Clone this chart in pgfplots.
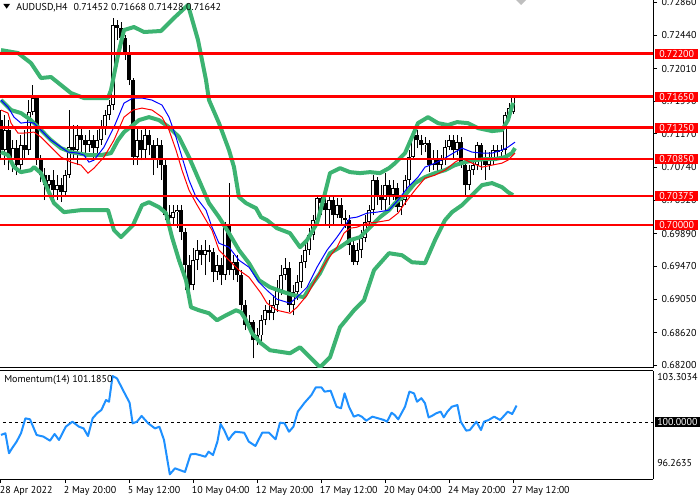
\documentclass[border=0pt]{standalone}
\usepackage{pgfplots}
\pgfplotsset{compat=1.18}
\usepackage{pgfplotstable}
\usepackage{fontspec}
\setmainfont{PT Sans}
\definecolor{bandgreen}{RGB}{60,179,113}
\definecolor{momblue}{RGB}{30,144,255}

\pgfplotstableread{
i o h l c
0 0.71348 0.71477 0.70834 0.70963
1 0.70963 0.71412 0.70770 0.71220
2 0.71220 0.71348 0.70705 0.70834
3 0.70834 0.71091 0.70680 0.70988
4 0.70988 0.71091 0.70641 0.70770
5 0.70770 0.71155 0.70705 0.71027
6 0.71027 0.71220 0.70834 0.70963
7 0.70963 0.71605 0.70898 0.71451
8 0.71451 0.71798 0.71412 0.71631
9 0.71631 0.71669 0.70770 0.70834
10 0.70834 0.70898 0.70551 0.70641
11 0.70641 0.70731 0.70320 0.70513
12 0.70513 0.70641 0.70384 0.70577
13 0.70577 0.70705 0.70346 0.70449
14 0.70449 0.70641 0.70320 0.70513
15 0.70513 0.70603 0.70294 0.70423
16 0.70423 0.70705 0.70384 0.70641
17 0.70641 0.71477 0.70603 0.71001
18 0.71001 0.71284 0.70834 0.70963
19 0.70963 0.71284 0.70770 0.71155
20 0.71155 0.71258 0.70898 0.71091
21 0.71091 0.71155 0.70834 0.71027
22 0.71027 0.71220 0.70937 0.71091
23 0.71091 0.71155 0.70860 0.70988
24 0.70988 0.71220 0.70898 0.71091
25 0.71091 0.71348 0.71027 0.71245
26 0.71245 0.71477 0.71155 0.71412
27 0.71412 0.71605 0.71348 0.71541
28 0.71541 0.72659 0.71477 0.72569
29 0.72569 0.72633 0.72376 0.72530
30 0.72530 0.72607 0.72312 0.72402
31 0.72402 0.72440 0.72119 0.72183
32 0.72183 0.72312 0.71798 0.71862
33 0.71862 0.71888 0.70770 0.70873
34 0.70873 0.71258 0.70770 0.71091
35 0.71091 0.71220 0.70834 0.70963
36 0.70963 0.71245 0.70860 0.71155
37 0.71155 0.71220 0.70898 0.71027
38 0.71027 0.71091 0.70641 0.70834
39 0.70834 0.71117 0.70731 0.71027
40 0.71027 0.71091 0.70577 0.70770
41 0.70770 0.70834 0.70063 0.70128
42 0.70128 0.70256 0.69999 0.70089
43 0.70089 0.70256 0.69999 0.70166
44 0.70166 0.70256 0.69960 0.70192
45 0.70192 0.70256 0.69806 0.69909
46 0.69909 0.69960 0.69163 0.69485
47 0.69485 0.69613 0.69138 0.69228
48 0.69228 0.69703 0.69163 0.69549
49 0.69549 0.69806 0.69421 0.69678
50 0.69678 0.69742 0.69485 0.69613
51 0.69613 0.69806 0.69356 0.69678
52 0.69678 0.69742 0.69523 0.69652
53 0.69652 0.69703 0.69266 0.69395
54 0.69395 0.69613 0.69292 0.69485
55 0.69485 0.69575 0.69228 0.69356
56 0.69356 0.70037 0.69292 0.69999
57 0.69999 0.70539 0.69356 0.69421
58 0.69421 0.69613 0.69292 0.69523
59 0.69523 0.69613 0.69266 0.69356
60 0.69356 0.69421 0.68906 0.68971
61 0.68971 0.69035 0.68650 0.68714
62 0.68714 0.68842 0.68650 0.68752
63 0.68752 0.68778 0.68290 0.68521
64 0.68521 0.68675 0.68457 0.68585
65 0.68585 0.68842 0.68457 0.68778
66 0.68778 0.68971 0.68714 0.68906
67 0.68906 0.69035 0.68778 0.68868
68 0.68868 0.69099 0.68778 0.68971
69 0.68971 0.69292 0.68881 0.69163
70 0.69163 0.69485 0.69099 0.69356
71 0.69356 0.69575 0.69292 0.69446
72 0.69446 0.69523 0.68881 0.68971
73 0.68971 0.69228 0.68842 0.69138
74 0.69138 0.69356 0.69035 0.69266
75 0.69266 0.69613 0.69189 0.69523
76 0.69523 0.69806 0.69446 0.69678
77 0.69678 0.69960 0.69613 0.69870
78 0.69870 0.70128 0.69806 0.70063
79 0.70063 0.70371 0.69999 0.70346
80 0.70346 0.70384 0.70128 0.70282
81 0.70282 0.70346 0.69999 0.70192
82 0.70192 0.70384 0.69960 0.70320
83 0.70320 0.70384 0.69999 0.70128
84 0.70128 0.70346 0.70089 0.70256
85 0.70256 0.70346 0.69999 0.70089
86 0.70089 0.70192 0.69960 0.70063
87 0.70063 0.70128 0.69613 0.69742
88 0.69742 0.69806 0.69485 0.69523
89 0.69523 0.69767 0.69485 0.69678
90 0.69678 0.69935 0.69575 0.69832
91 0.69832 0.70128 0.69780 0.70037
92 0.70037 0.70256 0.69960 0.70192
93 0.70192 0.70641 0.70128 0.70577
94 0.70577 0.70616 0.70256 0.70384
95 0.70384 0.70513 0.70192 0.70320
96 0.70320 0.70667 0.70192 0.70513
97 0.70513 0.70577 0.70256 0.70384
98 0.70384 0.70577 0.70320 0.70474
99 0.70474 0.70539 0.70166 0.70230
100 0.70230 0.70384 0.70128 0.70320
101 0.70320 0.70641 0.70256 0.70577
102 0.70577 0.70963 0.70513 0.70873
103 0.70873 0.71258 0.70834 0.71155
104 0.71155 0.71220 0.70988 0.71091
105 0.71091 0.71155 0.70898 0.71027
106 0.71027 0.71130 0.70937 0.71052
107 0.71052 0.71091 0.70680 0.70770
108 0.70770 0.70963 0.70705 0.70860
109 0.70860 0.70963 0.70680 0.70770
110 0.70770 0.70898 0.70705 0.70834
111 0.70834 0.71091 0.70770 0.71001
112 0.71001 0.71155 0.70963 0.71091
113 0.71091 0.71155 0.70860 0.70963
114 0.70963 0.71155 0.70898 0.71065
115 0.71065 0.71130 0.70731 0.70770
116 0.70770 0.70834 0.70384 0.70513
117 0.70513 0.70770 0.70449 0.70705
118 0.70705 0.70860 0.70641 0.70770
119 0.70770 0.71065 0.70705 0.71027
120 0.71027 0.71052 0.70705 0.70834
121 0.70834 0.70963 0.70577 0.70770
122 0.70770 0.70937 0.70705 0.70860
123 0.70860 0.71027 0.70770 0.70963
124 0.70963 0.71027 0.70860 0.70937
125 0.70937 0.71027 0.70834 0.70963
126 0.70963 0.71451 0.70898 0.71412
127 0.71412 0.71566 0.71374 0.71502
128 0.71452 0.71668 0.71428 0.71642
}\candles

\pgfplotstableread{
x y
0 0.72247
4.25 0.72209
7.5 0.72080
10 0.71888
12.5 0.71901
15 0.71798
17.5 0.71695
20.75 0.71631
26.75 0.71631
27.5 0.71734
29.25 0.72183
30.75 0.72504
33.25 0.72543
35.75 0.72479
40 0.72492
43.25 0.72659
46.75 0.72826
49.25 0.72376
51.25 0.71862
52 0.71605
54.5 0.71309
57 0.70963
58.25 0.70744
59.5 0.70359
61.25 0.70282
63.75 0.70217
65 0.70102
66.5 0.70063
69 0.69960
72.25 0.69896
74.75 0.69716
76.5 0.69806
79 0.70025
80.75 0.70359
82.25 0.70667
84.75 0.70731
87.25 0.70680
89.75 0.70667
92.25 0.70680
94.75 0.70667
97 0.70731
98.5 0.70795
101 0.70924
102.75 0.71130
104.25 0.71309
106.75 0.71386
109.25 0.71309
111.75 0.71284
114 0.71322
116.75 0.71309
119.25 0.71245
122.75 0.71207
125.25 0.71220
126.75 0.71348
128 0.71570
}\upperband

\pgfplotstableread{
x y
0 0.70937
1.75 0.70898
3.25 0.70744
5 0.70680
7.5 0.70705
8.25 0.70744
10 0.70667
11.75 0.70449
13.25 0.70282
15.75 0.70166
20 0.70192
24.25 0.70192
26.75 0.70192
28.25 0.69935
30 0.69845
31.75 0.69935
33 0.69999
35.25 0.70256
37 0.70294
39.5 0.70230
41.25 0.70153
42.75 0.69845
44.5 0.69549
46.25 0.69292
47.5 0.68945
49.5 0.68906
52 0.68868
54 0.68778
56.25 0.68842
58.75 0.68906
60 0.68881
61.25 0.68778
62.75 0.68611
65 0.68483
67.25 0.68393
72.25 0.68354
74.75 0.68431
77.25 0.68302
79.75 0.68174
82.25 0.68302
84.75 0.68688
88.25 0.68906
90.75 0.69035
93.25 0.69421
97 0.69639
100.25 0.69613
102.75 0.69523
106 0.69511
108.5 0.69806
111 0.70063
112.75 0.70166
115.25 0.70256
117.75 0.70384
120.25 0.70513
122.75 0.70539
125.25 0.70487
126.75 0.70423
128 0.70384
}\lowerband

\pgfplotstableread{
x y
0 0.71605
2.5 0.71477
5 0.71438
7.5 0.71348
10 0.71220
12.5 0.71091
15 0.70988
17.5 0.70937
21.75 0.70898
25 0.70898
27.5 0.70924
29.25 0.71091
30.75 0.71194
33 0.71284
34.5 0.71348
37 0.71386
39.5 0.71348
42 0.71258
44.5 0.71130
47 0.70873
49.5 0.70577
52 0.70282
54.5 0.70102
57 0.69896
59.5 0.69678
62 0.69511
64.5 0.69292
67.25 0.69202
70.75 0.69138
73.25 0.69099
75.75 0.69074
77.25 0.69202
79.75 0.69382
82.25 0.69639
84.75 0.69716
87.25 0.69806
89.75 0.69845
92.25 0.69973
94.75 0.70102
97 0.70192
98.5 0.70282
101 0.70384
103.5 0.70539
106 0.70616
108.5 0.70667
111 0.70705
113.5 0.70770
116 0.70808
118.5 0.70834
121 0.70847
123.5 0.70847
126 0.70873
127.75 0.70924
128.5 0.70988
}\midband

\pgfplotstableread{
x y
0 0.71605
1.75 0.71515
3.25 0.71386
5 0.71309
6.75 0.71322
8.25 0.71309
10 0.71220
12.5 0.71091
15 0.71001
16.75 0.70937
19.25 0.70924
20.75 0.70898
22 0.70808
23.25 0.70834
25.75 0.71001
28.25 0.71258
30.75 0.71566
33 0.71631
35.25 0.71631
37.75 0.71605
40.25 0.71541
42 0.71386
43.75 0.71130
45.25 0.70873
47 0.70577
48.75 0.70359
51.25 0.70192
52.75 0.69973
54.5 0.69767
57 0.69716
59.5 0.69549
62 0.69459
64.5 0.69266
66.5 0.69163
69 0.69048
72.25 0.68997
74 0.69074
76.5 0.69202
79 0.69459
81.5 0.69678
84 0.69845
85.75 0.69973
87.25 0.70089
89 0.70102
91.5 0.70153
94 0.70166
97 0.70192
99.25 0.70320
101.75 0.70487
104.25 0.70616
106 0.70744
108.5 0.70795
111 0.70860
113.5 0.70937
115.25 0.70988
117.75 0.70937
120.25 0.70924
122.75 0.70924
125.25 0.70963
126.75 0.71001
128.5 0.71065
}\bluema

\pgfplotstableread{
x y
0 0.71477
1.75 0.71438
2.5 0.71309
4.25 0.71181
5.75 0.71181
8.25 0.71194
10 0.71130
12.5 0.71001
15 0.70873
17.5 0.70808
20 0.70770
21.75 0.70667
23.25 0.70731
25.75 0.70873
28.25 0.71091
30.75 0.71386
33 0.71477
35.25 0.71502
37.75 0.71477
40.25 0.71386
42 0.71220
43.75 0.70963
45.25 0.70705
47 0.70449
48.75 0.70282
51.25 0.70063
52.75 0.69935
54.5 0.69678
57 0.69549
59.5 0.69421
62 0.69331
65 0.69125
66.5 0.68997
69 0.68906
72.25 0.68868
74 0.68945
76.5 0.69099
79 0.69331
81.5 0.69549
84 0.69716
85.75 0.69896
87.25 0.69960
89 0.69973
91.5 0.70025
94 0.70037
97 0.70063
99.25 0.70153
101 0.70282
103.5 0.70449
106 0.70603
108.5 0.70641
111 0.70705
113.5 0.70808
115.25 0.70860
117.75 0.70795
120.25 0.70744
122.75 0.70770
125.25 0.70795
126.75 0.70834
128.5 0.70924
}\redma

\pgfplotstableread{
x y
0 99.08
1.1 99.20
2 97.77
2.75 98.12
3.9 98.60
5 99.20
6.1 100.27
7.25 100.20
8.9 99.08
10.6 98.96
12.25 98.67
13.4 99.15
14.5 98.72
16.2 99.67
17.85 100.03
19.5 99.67
20.65 99.55
21.75 99.00
22.9 100.27
24 100.63
25.1 100.87
26.25 101.58
27 101.46
27.9 103.30
29 103.13
30.7 102.18
32.15 101.39
32.9 99.91
34 100.03
35.15 100.44
36.8 99.91
38.5 99.55
39.6 99.67
40.75 98.72
42.2 96.26
43.5 96.69
44.65 96.57
46 96.43
47.4 97.69
48.55 97.72
49.7 97.64
51.1 97.52
51.9 97.88
53 97.64
54.1 98.60
54.9 99.86
55.8 99.43
56.9 98.72
57.8 99.08
58.6 99.31
60.8 99.24
61.95 98.60
63.6 98.29
65.3 99.24
67 99.24
68.65 98.77
69.75 99.96
70.9 99.91
72 99.31
73.1 99.67
74.2 100.75
75.9 101.39
77.6 101.94
78.7 102.49
80.1 102.49
80.9 102.18
82.4 102.25
83.9 101.10
85 100.99
85.9 102.06
87 101.10
88.2 100.39
89.3 100.51
90.2 100.39
91.3 100.10
92.85 100.39
94.3 100.27
95.75 100.15
96.5 100.03
97.65 100.67
98.4 100.51
99.3 100.20
101 101.10
102.1 102.18
103.25 102.06
104 101.46
105.1 101.71
106 101.35
106.9 100.34
107.7 100.44
108.8 100.63
109.9 100.75
110.7 100.34
111.6 100.75
112.7 101.10
114.1 101.22
114.95 100.03
116.3 99.39
117.2 99.43
118.85 100.03
120 99.43
120.75 100.03
121.9 100.15
123.3 100.39
124.8 100.15
126.7 100.75
127.8 100.58
128.9 101.185
}\momentum

\begin{document}
\begin{tikzpicture}[font=\fontsize{7.5}{9}\selectfont]
\useasboundingbox (0pt,0pt) rectangle (525pt,375pt);
\begin{axis}[
  at={(0pt,375pt)}, anchor=north west,
  scale only axis, width=489.75pt, height=276pt,
  xmin=-0.25, xmax=163, ymin=0.68165, ymax=0.7289,
  axis x line*=bottom, axis y line*=right,
  axis line style={black, line width=0.75pt},
  xtick=\empty,
  ytick={0.6820,0.6862,0.6905,0.6947,0.6989,0.7032,0.7074,0.7117,0.7159,0.7201,0.7244,0.7286},
  scaled y ticks=false,
  /pgf/number format/assume math mode=true,
  yticklabel style={/pgf/number format/.cd, fixed, fixed zerofill, precision=5},
  tick align=outside, major tick length=3pt,
  tick style={black, line width=0.75pt},
  every tick label/.append style={font=\fontsize{7.5}{9}\selectfont},
]
% candles: wicks
\addplot[draw=none, mark=none, forget plot,
  error bars/.cd, y dir=plus, y explicit, error mark=none,
  error bar style={draw=black, line width=0.75pt}]
  table[x=i, y=l, y error plus expr={\thisrow{h}-\thisrow{l}}] {\candles};
% bodies
\addplot[draw=none, mark=none, forget plot,
  error bars/.cd, y dir=plus, y explicit, error mark=none,
  error bar style={draw=black, line width=2.6pt}]
  table[x=i, y expr={min(\thisrow{o},\thisrow{c})}, y error plus expr={max(abs(\thisrow{c}-\thisrow{o}),0.00013)}] {\candles};
% white interior of rising bodies
\addplot[draw=none, mark=none, forget plot,
  error bars/.cd, y dir=plus, y explicit, error mark=none,
  error bar style={draw=white, line width=1.1pt}]
  table[x=i, y expr={\thisrow{o}+0.0001}, y error plus expr={max(\thisrow{c}-\thisrow{o}-0.0002,0)}] {\candles};
% Bollinger bands
\addplot[bandgreen, line width=3pt, line join=round] table[x=x,y=y] {\upperband};
\addplot[bandgreen, line width=3pt, line join=round] table[x=x,y=y] {\midband};
\addplot[bandgreen, line width=3pt, line join=round] table[x=x,y=y] {\lowerband};
% moving averages
\addplot[blue, line width=0.75pt] table[x=x,y=y] {\bluema};
\addplot[red, line width=0.75pt] table[x=x,y=y] {\redma};
% horizontal levels
\addplot[red, line width=2pt] coordinates {(-1,0.722) (164,0.722)};
\addplot[red, line width=2pt] coordinates {(-1,0.7165) (164,0.7165)};
\addplot[red, line width=2pt] coordinates {(-1,0.7125) (164,0.7125)};
\addplot[red, line width=2pt] coordinates {(-1,0.7085) (164,0.7085)};
\addplot[red, line width=2pt] coordinates {(-1,0.70375) (164,0.70375)};
\addplot[red, line width=2pt] coordinates {(-1,0.70) (164,0.70)};
\coordinate (r1) at (axis cs:163,0.722);
\coordinate (r2) at (axis cs:163,0.7165);
\coordinate (r3) at (axis cs:163,0.7125);
\coordinate (r4) at (axis cs:163,0.7085);
\coordinate (r5) at (axis cs:163,0.70375);
\coordinate (r6) at (axis cs:163,0.70);
\end{axis}

\begin{axis}[
  at={(0pt,96.75pt)}, anchor=north west,
  scale only axis, width=489.75pt, height=81pt,
  xmin=-0.25, xmax=163, ymin=95.925, ymax=103.66,
  axis x line*=box, axis y line*=right,
  axis line style={black, line width=0.75pt},
  ytick=\empty,
  xtick={0,16,32,48,64,80,96,112,128},
  xticklabels={28 Apr 2022,2 May 20:00,5 May 12:00,10 May 04:00,12 May 20:00,17 May 12:00,20 May 04:00,24 May 20:00,27 May 12:00},
  xtick pos=bottom,
  tick align=outside, major tick length=3pt,
  tick style={black, line width=0.75pt},
  xticklabel style={anchor=north west, inner xsep=0pt, inner ysep=2pt, xshift=-1pt, font=\fontsize{7.5}{9}\selectfont},
]
\addplot[black, line width=0.75pt, dash pattern=on 2.25pt off 2.25pt] coordinates {(-1,100) (164,100)};
\addplot[momblue, line width=1.5pt, line join=round] table[x=x,y=y] {\momentum};
\coordinate (m100) at (axis cs:163,100);
\end{axis}

% price level labels
\foreach \n/\t in {r1/0.72200,r2/0.71650,r3/0.71250,r4/0.70850,r5/0.70375,r6/0.70000}
  \node[fill=red, text=white, anchor=west, inner xsep=3pt, inner ysep=0.8pt, minimum height=7.5pt] at ([xshift=1.5pt]\n) {\t};
\node[fill=black, text=white, anchor=west, inner xsep=1.5pt, inner ysep=0.8pt, minimum height=7.5pt] at ([xshift=1.5pt]m100) {100.0000};
\node[anchor=west, inner sep=0pt] at (492.75pt,92.25pt) {103.3034};
\node[anchor=west, inner sep=0pt] at (492.75pt,27.75pt) {96.2635};

% header texts
\fill[black] (2.5pt,372pt) -- (7.5pt,372pt) -- (5pt,368.5pt) -- cycle;
\node[anchor=west, inner sep=0pt] at (12pt,369pt) {AUDUSD,H4\hspace{4.5pt}0.71452 0.71668 0.71428 0.71642};
\node[anchor=west, inner sep=0pt] at (3pt,90pt) {Momentum(14) 101.1850};
\fill[black!25] (387pt,375pt) -- (390.75pt,371.25pt) -- (394.5pt,375pt) -- cycle;
\end{tikzpicture}
\end{document}
